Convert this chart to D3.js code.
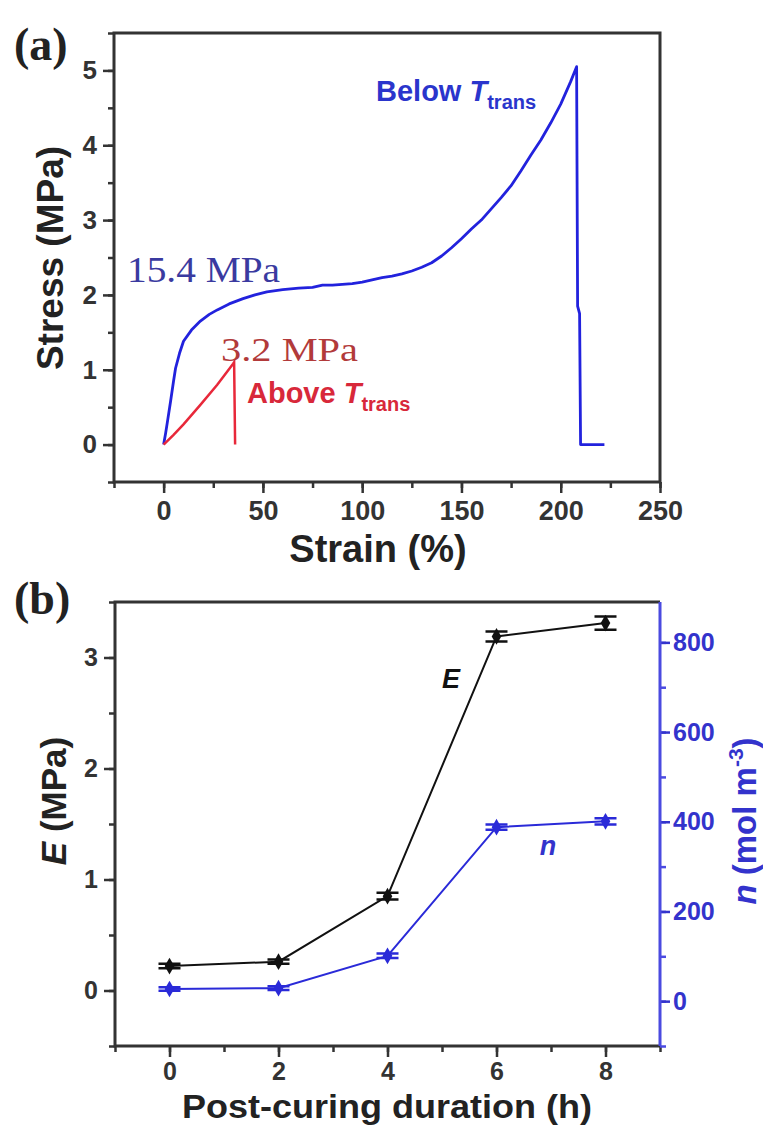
<!doctype html>
<html>
<head>
<meta charset="utf-8">
<script src="https://cdnjs.cloudflare.com/ajax/libs/d3/7.8.5/d3.min.js"></script>
<style>
  body { margin: 0; background: #fff; }
  svg text { font-family: Arial, "Liberation Sans", sans-serif; font-weight: bold; }
  .serif { font-family: "Times New Roman", "Liberation Serif", serif !important; }
</style>
</head>
<body>
<svg id="chart" width="763" height="1127"></svg>
<script>
// panel (a): stress-strain curves
var belowStrain = [0, 1, 2, 3.5, 5, 6, 8, 10, 14, 18.5, 23, 27, 33, 40, 46, 52, 60, 68, 75, 80, 85, 90, 95, 100, 105, 110, 115, 120, 125, 130, 135, 140, 145, 150, 155, 160, 165, 170, 175, 180, 185, 190, 195, 200, 205, 208, 208.5, 209.5, 210, 222];
var belowStress = [0, 0.15, 0.32, 0.58, 0.85, 1.02, 1.22, 1.38, 1.53, 1.65, 1.74, 1.8, 1.88, 1.95, 2.0, 2.04, 2.07, 2.09, 2.1, 2.13, 2.13, 2.14, 2.15, 2.17, 2.2, 2.23, 2.25, 2.28, 2.32, 2.37, 2.43, 2.52, 2.63, 2.75, 2.88, 3.0, 3.15, 3.3, 3.46, 3.66, 3.87, 4.07, 4.3, 4.55, 4.85, 5.05, 1.85, 1.75, 0, 0];
var aboveStrain = [0, 5, 10, 18.5, 27, 35, 35.5, 36];
var aboveStress = [0, 0.13, 0.27, 0.53, 0.8, 1.08, 1.1, 0];
var strainTicks = [0, 50, 100, 150, 200, 250];
var stressTicks = [0, 1, 2, 3, 4, 5];

// panel (b): modulus and crosslink density vs post-curing time
var hours = [0, 2, 4, 6, 8];
var modulusE = [0.22, 0.26, 0.85, 3.19, 3.31];
var modulusErr = [0.02, 0.02, 0.03, 0.045, 0.06];
var densityN = [27, 29, 101, 388, 401];
var densityErr = [4, 4, 5, 6, 7];
var hourTicks = [0, 2, 4, 6, 8];
var eTicks = [0, 1, 2, 3];
var nTicks = [0, 200, 400, 600, 800];

var svg = d3.select("#chart");
var axisColor = "#333";
var blue = "#2222dd";

function styleAxis(g, color, size) {
  g.select(".domain").remove();
  g.selectAll(".tick line").attr("stroke", color).attr("stroke-width", 2.5);
  g.selectAll(".tick text").attr("fill", color).style("font-size", (size || 26) + "px");
}

// ---------- panel (a) ----------
var xa = d3.scaleLinear().domain([-25, 250]).range([114, 660]);
var ya = d3.scaleLinear().domain([-0.5, 5.5]).range([482, 33]);

var ga = svg.append("g");
ga.append("g").attr("transform", "translate(0,482)")
  .call(d3.axisBottom(xa).tickValues(d3.range(-25, 251, 25)).tickSize(6).tickFormat(""))
  .call(g => styleAxis(g, axisColor));
ga.append("g").attr("transform", "translate(0,482)")
  .call(d3.axisBottom(xa).tickValues(strainTicks).tickSize(11).tickPadding(8).tickFormat(d3.format("d")))
  .call(g => styleAxis(g, axisColor, 27));
ga.append("g").attr("transform", "translate(114,0)")
  .call(d3.axisLeft(ya).tickValues(d3.range(-0.5, 5.51, 0.5)).tickSize(6).tickFormat(""))
  .call(g => styleAxis(g, axisColor));
ga.append("g").attr("transform", "translate(114,0)")
  .call(d3.axisLeft(ya).tickValues(stressTicks).tickSize(11).tickPadding(6).tickFormat(d3.format("d")))
  .call(g => styleAxis(g, axisColor, 26));

ga.append("rect").attr("x", 114).attr("y", 33).attr("width", 546).attr("height", 449)
  .attr("fill", "none").attr("stroke", axisColor).attr("stroke-width", 3);

var lineStraight = d3.line().x(d => xa(d[0])).y(d => ya(d[1]));
ga.append("path").datum(d3.zip(belowStrain, belowStress))
  .attr("d", lineStraight).attr("fill", "none").attr("stroke", blue).attr("stroke-width", 2.8)
  .attr("stroke-linejoin", "round");
ga.append("path").datum(d3.zip(aboveStrain, aboveStress))
  .attr("d", lineStraight).attr("fill", "none").attr("stroke", "#e8283a").attr("stroke-width", 2.5);

ga.append("text").attr("x", 378).attr("y", 562).attr("text-anchor", "middle")
  .style("font-size", "38px").attr("fill", "#222").text("Strain (%)");
ga.append("text").attr("transform", "translate(63,258) rotate(-90)").attr("text-anchor", "middle")
  .style("font-size", "37px").attr("fill", "#222").text("Stress (MPa)");
ga.append("text").attr("class", "serif").attr("x", 14).attr("y", 60)
  .style("font-size", "46px").attr("fill", "#222").text("(a)");

ga.append("text").attr("class", "serif").attr("x", 127).attr("y", 282)
  .attr("textLength", 153).attr("lengthAdjust", "spacingAndGlyphs")
  .style("font-size", "35px").style("font-weight", "normal").attr("fill", "#3a3aa0").text("15.4 MPa");
ga.append("text").attr("class", "serif").attr("x", 221).attr("y", 361)
  .attr("textLength", 137).attr("lengthAdjust", "spacingAndGlyphs")
  .style("font-size", "33px").style("font-weight", "normal").attr("fill", "#b23a3a").text("3.2 MPa");

var above = ga.append("text").attr("x", 247).attr("y", 403).attr("fill", "#d8283a").style("font-size", "29px");
above.append("tspan").text("Above ");
above.append("tspan").style("font-style", "italic").text("T");
above.append("tspan").attr("dy", 8).style("font-size", "20px").text("trans");

var below = ga.append("text").attr("x", 376).attr("y", 101).attr("fill", "#2a35cc").style("font-size", "29px");
below.append("tspan").text("Below ");
below.append("tspan").style("font-style", "italic").text("T");
below.append("tspan").attr("dy", 8).style("font-size", "20px").text("trans");

// ---------- panel (b) ----------
var xb = d3.scaleLinear().domain([-1, 9]).range([115, 660]);
var yE = d3.scaleLinear().domain([-0.5, 3.5]).range([1046, 602]);
var yN = d3.scaleLinear().domain([-100, 890]).range([1046, 602]);
var nColor = "#3333cc";

var gb = svg.append("g");
gb.append("g").attr("transform", "translate(0,1046)")
  .call(d3.axisBottom(xb).tickValues(d3.range(-1, 9.1, 1)).tickSize(6).tickFormat(""))
  .call(g => styleAxis(g, axisColor));
gb.append("g").attr("transform", "translate(0,1046)")
  .call(d3.axisBottom(xb).tickValues(hourTicks).tickSize(11).tickPadding(5))
  .call(g => styleAxis(g, axisColor, 25));
gb.append("g").attr("transform", "translate(115,0)")
  .call(d3.axisLeft(yE).tickValues(d3.range(-0.5, 3.51, 0.5)).tickSize(6).tickFormat(""))
  .call(g => styleAxis(g, axisColor));
gb.append("g").attr("transform", "translate(115,0)")
  .call(d3.axisLeft(yE).tickValues(eTicks).tickSize(11).tickPadding(6).tickFormat(d3.format("d")))
  .call(g => styleAxis(g, axisColor, 25));
gb.append("g").attr("transform", "translate(660,0)")
  .call(d3.axisRight(yN).tickValues(d3.range(-100, 890, 100)).tickSize(6).tickFormat(""))
  .call(g => styleAxis(g, "#4a4ae0"));
gb.append("g").attr("transform", "translate(660,0)")
  .call(d3.axisRight(yN).tickValues(nTicks).tickSize(10).tickPadding(3))
  .call(g => styleAxis(g, nColor, 25));

gb.append("path").attr("d", "M660,602H115V1046H660").attr("fill", "none")
  .attr("stroke", axisColor).attr("stroke-width", 3);
gb.append("line").attr("x1", 660).attr("x2", 660).attr("y1", 602).attr("y2", 1046)
  .attr("stroke", "#4a4ae0").attr("stroke-width", 3);

function drawSeries(vals, errs, y, color) {
  var pts = hours.map((h, i) => ({x: xb(h), y: y(vals[i]), lo: y(vals[i] - errs[i]), hi: y(vals[i] + errs[i])}));
  gb.append("path").datum(pts)
    .attr("d", d3.line().x(d => d.x).y(d => d.y))
    .attr("fill", "none").attr("stroke", color).attr("stroke-width", 2);
  var eb = gb.append("g").selectAll("g").data(pts).enter().append("g");
  eb.append("path").attr("d", d => "M" + (d.x - 11) + "," + d.hi + "H" + (d.x + 11) +
      "M" + (d.x - 11) + "," + d.lo + "H" + (d.x + 11) + "M" + d.x + "," + d.hi + "V" + d.lo)
    .attr("stroke", color).attr("stroke-width", 2.5);
  eb.append("path").attr("d", d3.symbol(d3.symbolDiamond, 80))
    .attr("transform", d => "translate(" + d.x + "," + d.y + ")").attr("fill", color);
}
drawSeries(modulusE, modulusErr, yE, "#111");
drawSeries(densityN, densityErr, yN, "#2a2ad8");

gb.append("text").attr("x", 451).attr("y", 688).attr("text-anchor", "middle")
  .style("font-size", "27px").style("font-style", "italic").attr("fill", "#111").text("E");
gb.append("text").attr("x", 548).attr("y", 855).attr("text-anchor", "middle")
  .style("font-size", "27px").style("font-style", "italic").attr("fill", nColor).text("n");

gb.append("text").attr("x", 387).attr("y", 1118).attr("text-anchor", "middle")
  .attr("textLength", 410).attr("lengthAdjust", "spacingAndGlyphs")
  .style("font-size", "34px").attr("fill", "#222").text("Post-curing duration (h)");
var yl = gb.append("text").attr("transform", "translate(66,801) rotate(-90)").attr("text-anchor", "middle")
  .style("font-size", "35px").attr("fill", "#222");
yl.append("tspan").style("font-style", "italic").text("E");
yl.append("tspan").text(" (MPa)");
var nl = gb.append("text").attr("transform", "translate(756,821) rotate(-90)").attr("text-anchor", "middle")
  .style("font-size", "33px").attr("fill", nColor);
nl.append("tspan").style("font-style", "italic").text("n");
nl.append("tspan").text(" (mol m");
nl.append("tspan").attr("dy", -13).style("font-size", "21px").text("-3");
nl.append("tspan").attr("dy", 13).text(")");
gb.append("text").attr("class", "serif").attr("x", 14).attr("y", 614)
  .style("font-size", "46px").attr("fill", "#222").text("(b)");
</script>
</body>
</html>
